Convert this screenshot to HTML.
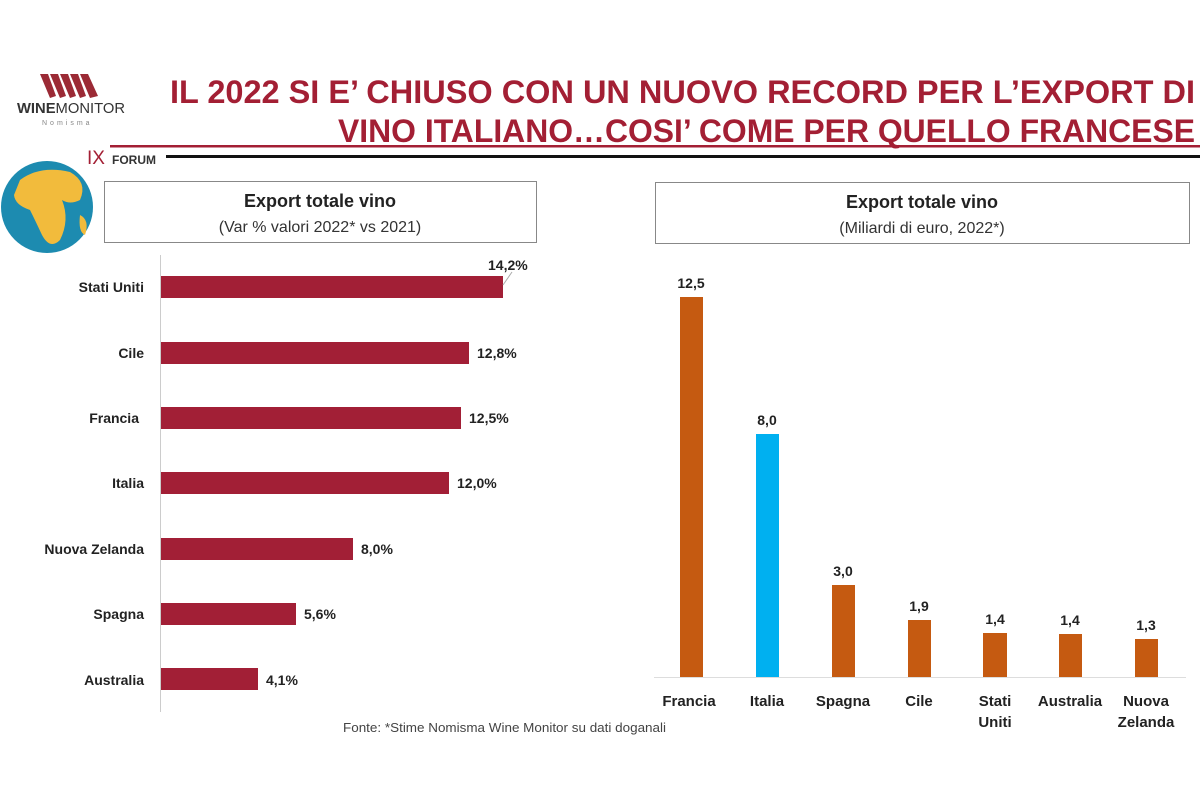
<!DOCTYPE html>
<html><head><meta charset="utf-8"><style>
html,body{margin:0;padding:0;background:#fff;}
svg{display:block;font-family:"Liberation Sans",sans-serif;}
</style></head><body>
<svg width="1200" height="800" viewBox="0 0 1200 800">
<g fill="#9b2a35">
<polygon points="40,74 48,74 56,96 50,98"/>
<polygon points="50,74 58,74 66,96 60,98"/>
<polygon points="60,74 68,74 76,96 70,98"/>
<polygon points="70,74 78,74 86,96 80,98"/>
<polygon points="80,74 88,74 98,96 90,98"/>
</g>
<text x="17" y="113" font-size="15" fill="#333" textLength="108" lengthAdjust="spacingAndGlyphs"><tspan font-weight="bold">WINE</tspan>MONITOR</text>
<text x="42" y="125" font-size="7" fill="#888" letter-spacing="3">Nomisma</text>
<g fill="#a31f34" font-weight="bold" font-size="32">
<text x="170" y="103" textLength="1025" lengthAdjust="spacingAndGlyphs">IL 2022 SI E’ CHIUSO CON UN NUOVO RECORD PER L’EXPORT DI</text>
<text x="338" y="142" textLength="857" lengthAdjust="spacingAndGlyphs">VINO ITALIANO…COSI’ COME PER QUELLO FRANCESE</text>
</g>
<rect x="110" y="145" width="1090" height="2.5" fill="#a31f34"/>
<rect x="166" y="155" width="1034" height="3" fill="#111"/>
<text x="87" y="164" font-size="19" fill="#a31f34">IX</text>
<text x="112" y="164" font-size="12" font-weight="bold" fill="#333">FORUM</text>
<circle cx="47" cy="207" r="46" fill="#1d8bb0"/>
<path d="M20,180 Q40,165 70,172 Q88,182 80,200 Q70,205 62,200 Q70,220 60,240 Q50,250 42,235 Q35,220 30,210 Q15,205 14,195 Z" fill="#f2bb3c"/>
<path d="M80,215 Q90,220 85,235 Q78,232 80,215Z" fill="#f2bb3c"/>
<rect x="104.5" y="181.5" width="432" height="61" fill="#fff" stroke="#888"/>
<text x="320" y="207" text-anchor="middle" font-size="18" font-weight="bold" fill="#222">Export totale vino</text>
<text x="320" y="232" text-anchor="middle" font-size="16" fill="#333">(Var % valori 2022* vs 2021)</text>
<line x1="160.5" y1="255" x2="160.5" y2="712" stroke="#ccc"/>
<g fill="#a21f36">
<rect x="161" y="276" width="342" height="22"/>
<rect x="161" y="342" width="308" height="22"/>
<rect x="161" y="407" width="300" height="22"/>
<rect x="161" y="472" width="288" height="22"/>
<rect x="161" y="538" width="192" height="22"/>
<rect x="161" y="603" width="135" height="22"/>
<rect x="161" y="668" width="97" height="22"/>
</g>
<g font-size="14" font-weight="bold" fill="#222" text-anchor="end">
<text x="144" y="292">Stati Uniti</text>
<text x="144" y="358">Cile</text>
<text x="139" y="423">Francia</text>
<text x="144" y="488">Italia</text>
<text x="144" y="554">Nuova Zelanda</text>
<text x="144" y="619">Spagna</text>
<text x="144" y="685">Australia</text>
</g>
<line x1="503" y1="285" x2="512" y2="272" stroke="#aaa"/>
<g font-size="14" font-weight="bold" fill="#222">
<text x="488" y="270">14,2%</text>
<text x="477" y="358">12,8%</text>
<text x="469" y="423">12,5%</text>
<text x="457" y="488">12,0%</text>
<text x="361" y="554">8,0%</text>
<text x="304" y="619">5,6%</text>
<text x="266" y="685">4,1%</text>
</g>
<text x="343" y="732" font-size="12.5" fill="#444" textLength="323" lengthAdjust="spacingAndGlyphs">Fonte: *Stime Nomisma Wine Monitor su dati doganali</text>
<rect x="655.5" y="182.5" width="534" height="61" fill="#fff" stroke="#888"/>
<text x="922" y="208" text-anchor="middle" font-size="18" font-weight="bold" fill="#222">Export totale vino</text>
<text x="922" y="233" text-anchor="middle" font-size="16" fill="#333">(Miliardi di euro, 2022*)</text>
<line x1="654" y1="677.5" x2="1186" y2="677.5" stroke="#ddd"/>
<g fill="#c55a11">
<rect x="680" y="297" width="23" height="380"/>
<rect x="832" y="585" width="23" height="92"/>
<rect x="908" y="620" width="23" height="57"/>
<rect x="983" y="633" width="24" height="44"/>
<rect x="1059" y="634" width="23" height="43"/>
<rect x="1135" y="639" width="23" height="38"/>
</g>
<rect x="756" y="434" width="23" height="243" fill="#00b0f0"/>
<g font-size="14" font-weight="bold" fill="#222" text-anchor="middle">
<text x="691" y="288">12,5</text>
<text x="767" y="425">8,0</text>
<text x="843" y="576">3,0</text>
<text x="919" y="611">1,9</text>
<text x="995" y="624">1,4</text>
<text x="1070" y="625">1,4</text>
<text x="1146" y="630">1,3</text>
</g>
<g font-size="15" font-weight="bold" fill="#222" text-anchor="middle">
<text x="689" y="706">Francia</text>
<text x="767" y="706">Italia</text>
<text x="843" y="706">Spagna</text>
<text x="919" y="706">Cile</text>
<text x="995" y="706">Stati</text>
<text x="995" y="727">Uniti</text>
<text x="1070" y="706">Australia</text>
<text x="1146" y="706">Nuova</text>
<text x="1146" y="727">Zelanda</text>
</g>
</svg>
</body></html>
